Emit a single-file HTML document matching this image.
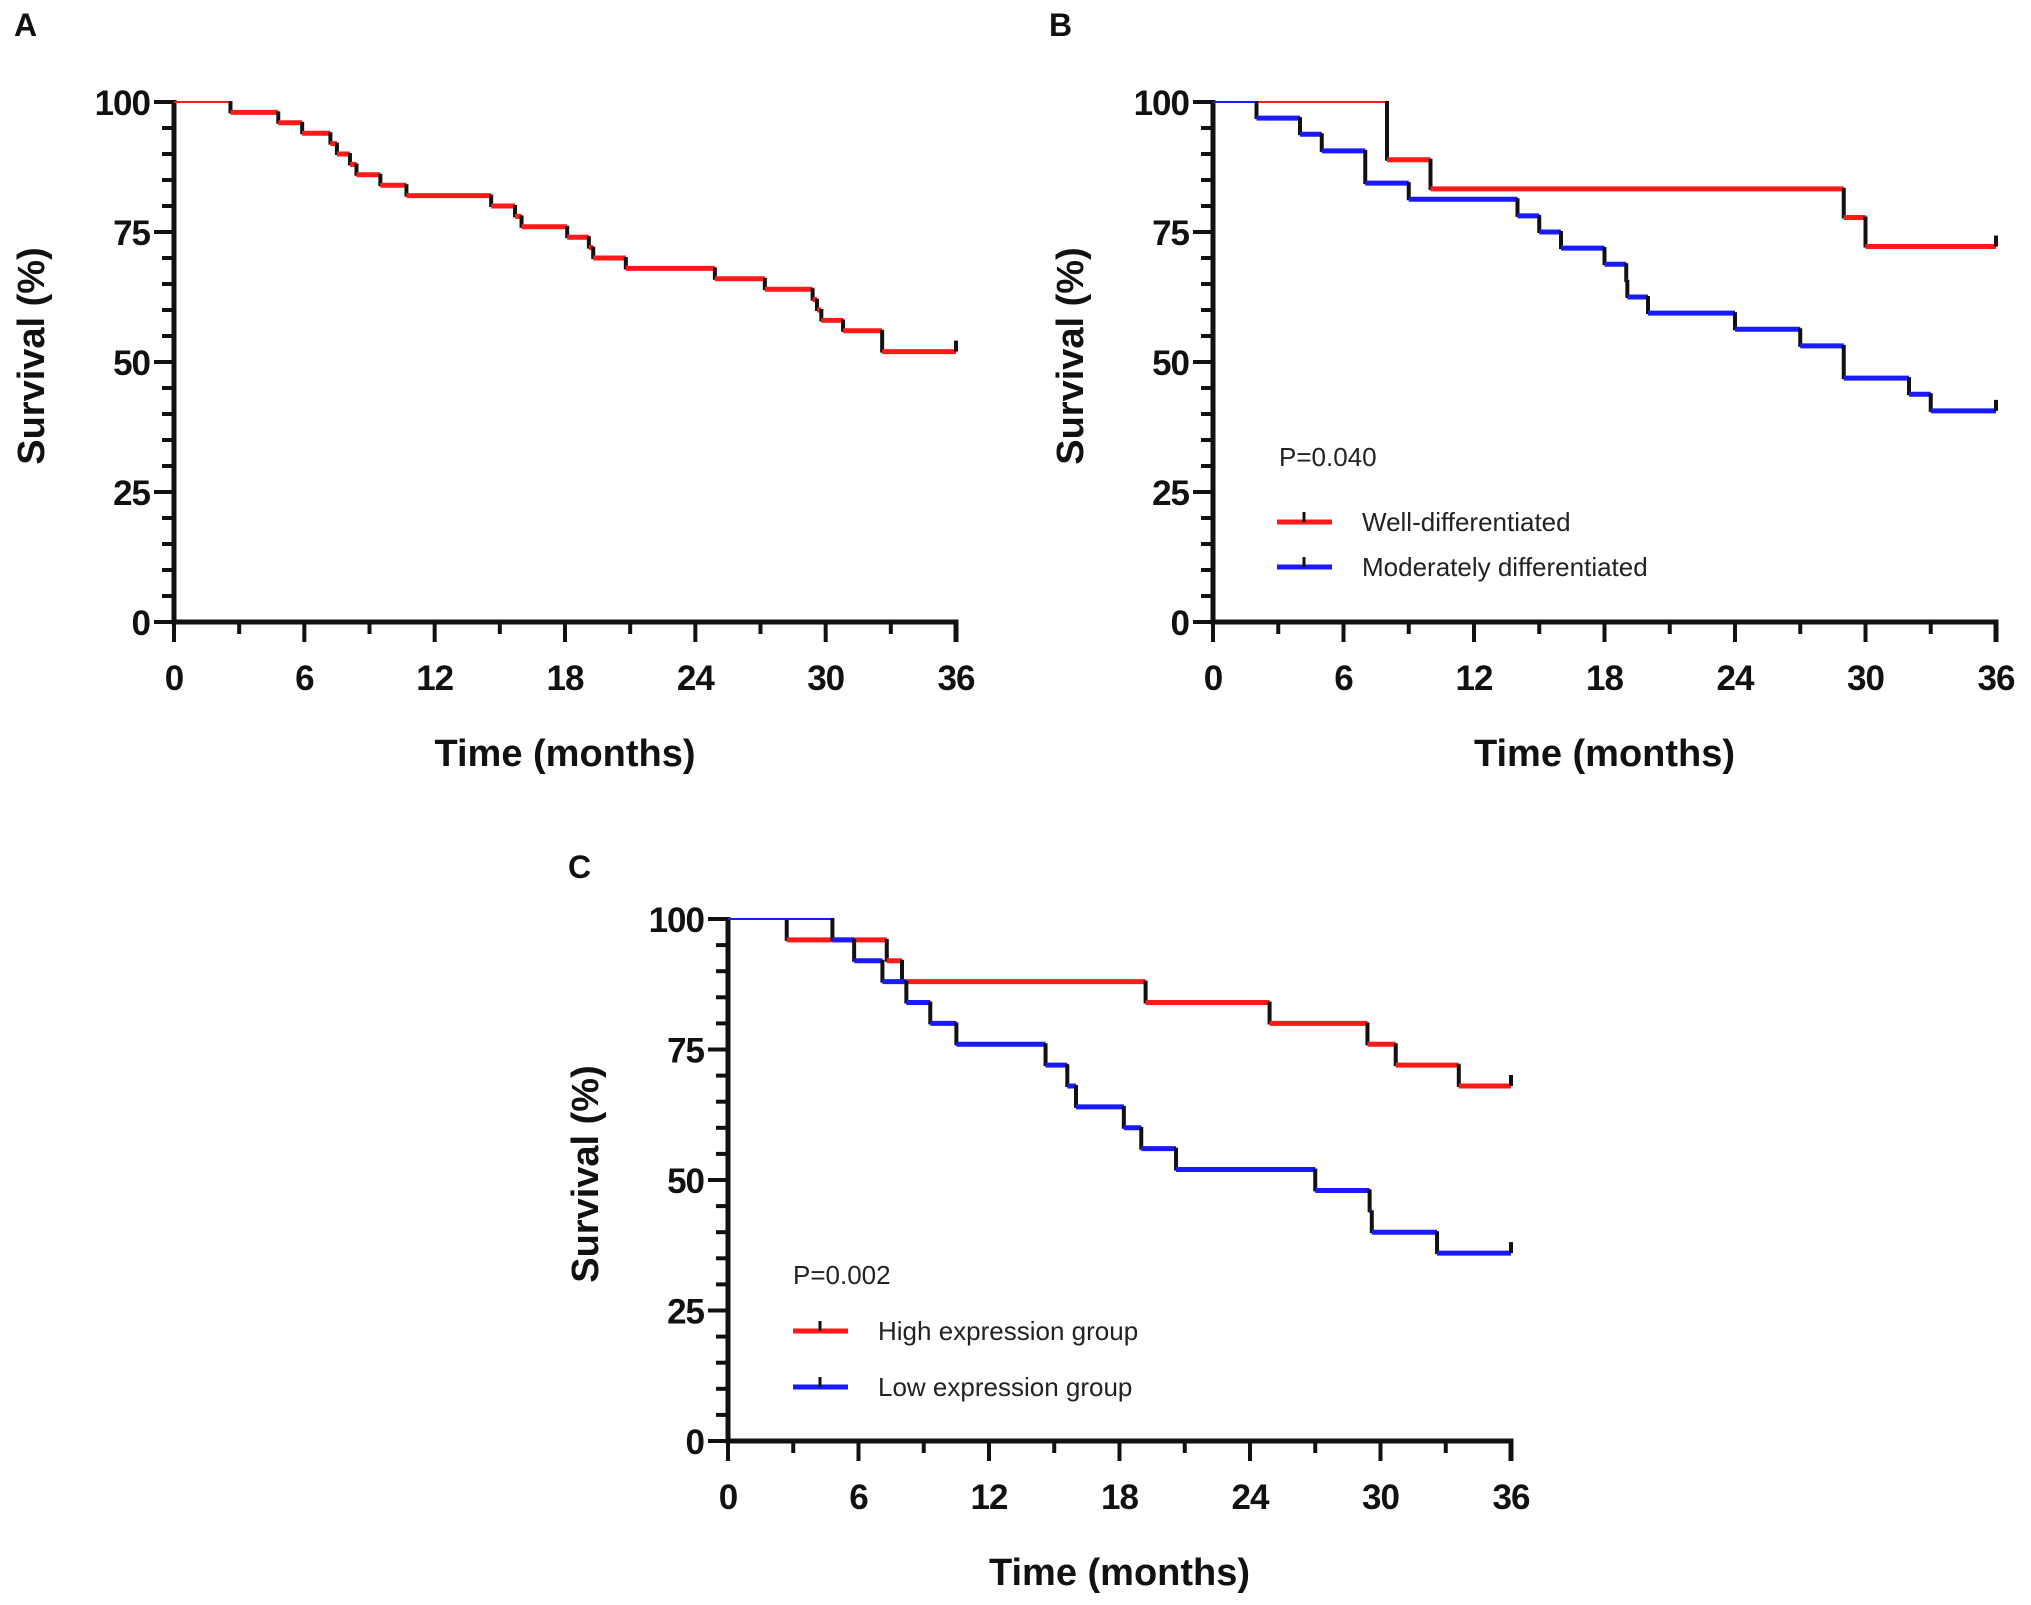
<!DOCTYPE html>
<html><head><meta charset="utf-8">
<style>
html,body{margin:0;padding:0;background:#fff;}
svg{display:block;font-family:"Liberation Sans",Arial,sans-serif;}
.tick{font-weight:bold;font-size:35px;fill:#111;letter-spacing:-1px;}
.title{font-weight:bold;font-size:38px;fill:#111;}
.plab{font-weight:bold;font-size:32px;fill:#111;}
.leg{font-size:26px;fill:#222;}
</style></head>
<body>
<svg id="fig" width="2031" height="1605" viewBox="0 0 2031 1605" xmlns="http://www.w3.org/2000/svg"></svg>
<script>
// Panel A data
const aTimes = [2.6,4.8,5.9,7.2,7.5,8.1,8.4,9.5,10.7,14.6,15.7,16.0,18.1,19.1,19.3,20.8,24.9,27.2,29.4,29.6,29.8,30.8,32.6];
const aSurv  = [98,96,94,92,90,88,86,84,82,80,78,76,74,72,70,68,66,64,62,60,58,56,52];
// Panel B data
const bRedTimes = [8,10,29,30];
const bRedSurv  = [88.9,83.3,77.8,72.2];
const bBlueTimes = [2,4,5,7,9,14,15,16,18,19,19.05,20,24,27,29,32,33];
const bBlueSurv  = [96.9,93.8,90.6,84.4,81.3,78.1,75,71.9,68.8,65.6,62.5,59.4,56.3,53.1,46.9,43.8,40.6];
// Panel C data
const cRedTimes = [2.7,7.3,8.0,19.2,24.9,29.4,30.7,33.6];
const cRedSurv  = [96,92,88,84,80,76,72,68];
const cBlueTimes = [4.8,5.8,7.1,8.2,9.3,10.5,14.6,15.6,16.0,18.2,19.0,20.6,27.0,29.5,29.6,32.6];
const cBlueSurv  = [96,92,88,84,80,76,72,68,64,60,56,52,48,44,40,36];
const xTicks = [0,6,12,18,24,30,36];
const yTicks = [0,25,50,75,100];

const NS = "http://www.w3.org/2000/svg";
const svg = document.getElementById('fig');
function mk(tag, attrs, parent){
  const e = document.createElementNS(NS, tag);
  for (const k in attrs) e.setAttribute(k, attrs[k]);
  (parent||svg).appendChild(e);
  return e;
}

function panel(name, letter, lx, ly, x0, x1, yTop, yBot){
  const g = mk('g', {});
  
  
  const sx = t => x0 + (x1-x0)*t/36;
  const sy = v => yBot - (yBot-yTop)*v/100;
  const lab = mk('text', {x:lx, y:ly, class:'plab'}, g);
  lab.textContent = letter;
  
  
  const ax = mk('path', {d:`M${x0} ${yTop-2} L${x0} ${yBot} L${x1} ${yBot} L${x1} ${yBot+20}`, stroke:'#111', 'stroke-width':5, fill:'none'}, g);
  
  
  for (let v=0; v<=100; v+=5){
    const major = v%25===0;
    mk('line', {x1:x0-(major?20:12), x2:x0, y1:sy(v), y2:sy(v), stroke:'#111', 'stroke-width':4}, g);
  }
  for (let t=0; t<=36; t+=3){
    const major = t%6===0;
    mk('line', {x1:sx(t), x2:sx(t), y1:yBot, y2:yBot+(major?20:12), stroke:'#111', 'stroke-width':4}, g);
  }
  yTicks.forEach(v=>{
    const t = mk('text', {x:x0-24, y:sy(v)+13, class:'tick', 'text-anchor':'end'}, g);
    t.textContent = v;
    
    
  });
  xTicks.forEach(v=>{
    const t = mk('text', {x:sx(v), y:yBot+68, class:'tick', 'text-anchor':'middle'}, g);
    t.textContent = v;
    
    
  });
  const xt = mk('text', {x:(x0+x1)/2, y:yBot+144, class:'title', 'text-anchor':'middle'}, g);
  xt.textContent = 'Time (months)';
  
  
  const yc = (yTop+yBot)/2 - 6;
  const yt = mk('text', {x:x0-142, y:yc, class:'title', 'text-anchor':'middle', transform:`rotate(-90 ${x0-142} ${yc})`, dy:12}, g);
  yt.textContent = 'Survival (%)';
  
  
  return {g, sx, sy};
}

function curve(p, times, surv, color, name){
  const g = mk('g', {}, p.g);
  
  
  let prevT = 0, prevS = 100;
  for (let i=0; i<=times.length; i++){
    const t = i<times.length ? times[i] : 36;
    mk('line', {x1:p.sx(prevT), x2:p.sx(t), y1:p.sy(prevS), y2:p.sy(prevS), stroke:color, 'stroke-width': prevS===100?2:5}, g);
    if (i<times.length){
      mk('line', {x1:p.sx(t), x2:p.sx(t), y1:p.sy(prevS)-1, y2:p.sy(surv[i])+1, stroke:'#111', 'stroke-width':4}, g);
      prevT = t; prevS = surv[i];
    }
  }
  mk('line', {x1:p.sx(36), x2:p.sx(36), y1:p.sy(prevS), y2:p.sy(prevS)-11, stroke:'#111', 'stroke-width':4}, g);
}

function legend(x, y, color, label){
  const g = mk('g', {});
  
  
  mk('line', {x1:x, x2:x+55, y1:y, y2:y, stroke:color, 'stroke-width':5}, g);
  mk('line', {x1:x+27, x2:x+27, y1:y, y2:y-10, stroke:'#111', 'stroke-width':3}, g);
  const t = mk('text', {x:x+85, y:y+9, class:'leg'}, g);
  t.textContent = label;
}
function ptext(x, y, s){
  const t = mk('text', {x:x, y:y, class:'leg'});
  t.textContent = s;
  
  
}

const pA = panel('panel-a', 'A', 14, 36, 174, 956, 102, 622);
curve(pA, aTimes, aSurv, '#ff1a1a', 'series-overall');

const pB = panel('panel-b', 'B', 1049, 36, 1213, 1996, 102, 622);
curve(pB, bRedTimes, bRedSurv, '#ff1a1a', 'series-well-differentiated');
curve(pB, bBlueTimes, bBlueSurv, '#1a1aff', 'series-moderately-differentiated');
ptext(1279, 466, 'P=0.040');
legend(1277, 522, '#ff1a1a', 'Well-differentiated');
legend(1277, 567, '#1a1aff', 'Moderately differentiated');

const pC = panel('panel-c', 'C', 568, 878, 728, 1511, 919, 1441);
curve(pC, cRedTimes, cRedSurv, '#ff1a1a', 'series-high-expression');
curve(pC, cBlueTimes, cBlueSurv, '#1a1aff', 'series-low-expression');
ptext(793, 1284, 'P=0.002');
legend(793, 1331, '#ff1a1a', 'High expression group');
legend(793, 1387, '#1a1aff', 'Low expression group');
</script>
</body></html>
